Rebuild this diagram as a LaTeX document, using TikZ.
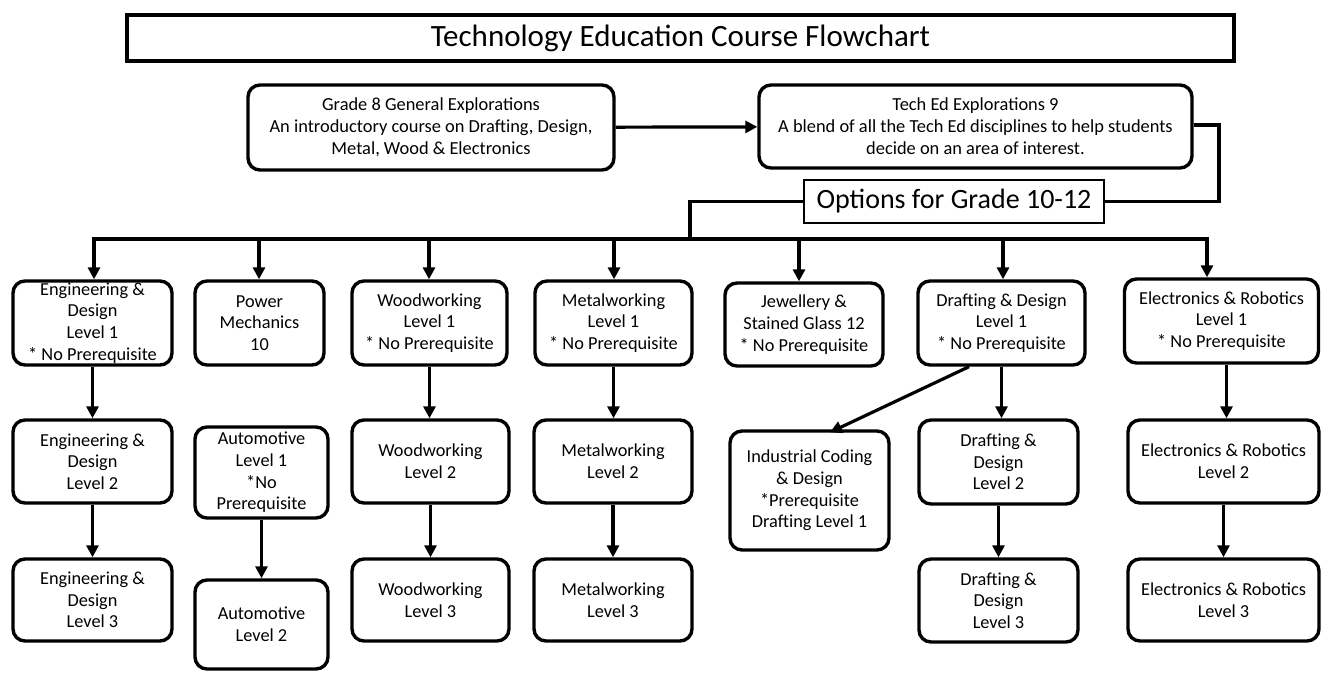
\documentclass[tikz,border=0pt]{standalone}
\usepackage{fontspec}
\setmainfont{Carlito}
\usetikzlibrary{arrows.meta}
\begin{document}
\begin{tikzpicture}[x=1pt,y=-1pt,
  box/.style={draw, line width=3.4pt, rounded corners=12pt, align=center, inner sep=0pt,
    font=\fontsize{18.3}{21.7}\selectfont},
  conn/.style={line width=3.2pt},
  arr/.style={line width=3.2pt, -{Triangle[length=12pt,width=12pt]}}]
\useasboundingbox (0,0) rectangle (1323,673);
% title
\node[draw, line width=4pt, minimum width=1107pt, minimum height=46pt, inner sep=0pt,
  font=\fontsize{31}{36}\selectfont] (title) at (680.5,38) {Technology Education Course Flowchart};
% top boxes
\node[box, minimum width=366pt, minimum height=85pt, font=\fontsize{18.4}{22}\selectfont] (g8) at (431,127.5)
  {Grade 8 General Explorations\\An introductory course on Drafting, Design,\\Metal, Wood \& Electronics};
\node[box, minimum width=433pt, minimum height=83pt, font=\fontsize{18.4}{22}\selectfont] (te) at (975.5,126.5)
  {Tech Ed Explorations 9\\A blend of all the Tech Ed disciplines to help students\\decide on an area of interest.};
\node[draw, line width=1.4pt, minimum width=300pt, minimum height=43pt, inner sep=0pt,
  font=\fontsize{28}{32}\selectfont] (opt) at (954,201.5) {Options for Grade 10-12};
% row 1
\node[box, minimum width=159pt, minimum height=84pt] (e1) at (92.5,323) {Engineering \&\\Design\\Level 1\\* No Prerequisite};
\node[box, minimum width=129pt, minimum height=84pt] (p1) at (259.5,323) {Power\\Mechanics\\10};
\node[box, minimum width=155pt, minimum height=84pt] (w1) at (429.5,323) {Woodworking\\Level 1\\* No Prerequisite};
\node[box, minimum width=157pt, minimum height=84pt] (m1) at (613.5,323) {Metalworking\\Level 1\\* No Prerequisite};
\node[box, minimum width=158pt, minimum height=83pt] (j1) at (804,324.5) {Jewellery \&\\Stained Glass 12\\* No Prerequisite};
\node[box, minimum width=167pt, minimum height=84pt] (d1) at (1001.5,323) {Drafting \& Design\\Level 1\\* No Prerequisite};
\node[box, minimum width=194pt, minimum height=84pt] (el1) at (1221.5,321) {Electronics \& Robotics\\Level 1\\* No Prerequisite};
% row 2
\node[box, minimum width=159pt, minimum height=83pt] (e2) at (92.5,461.5) {Engineering \&\\Design\\Level 2};
\node[box, minimum width=133pt, minimum height=91pt] (a1) at (261.5,472.5) {Automotive\\Level 1\\*No\\Prerequisite};
\node[box, minimum width=157pt, minimum height=83pt] (w2) at (430.5,461.5) {Woodworking\\Level 2};
\node[box, minimum width=158pt, minimum height=83pt] (m2) at (613,461.5) {Metalworking\\Level 2};
\node[box, minimum width=159pt, minimum height=119pt] (ic) at (809.5,490.5) {Industrial Coding\\\& Design\\*Prerequisite\\Drafting Level 1};
\node[box, minimum width=159pt, minimum height=84pt] (d2) at (998.5,462) {Drafting \&\\Design\\Level 2};
\node[box, minimum width=191pt, minimum height=83pt] (el2) at (1223.5,461.5) {Electronics \& Robotics\\Level 2};
% row 3
\node[box, minimum width=159pt, minimum height=82pt] (e3) at (92.5,600) {Engineering \&\\Design\\Level 3};
\node[box, minimum width=133pt, minimum height=89pt] (a2) at (261.5,624.5) {Automotive\\Level 2};
\node[box, minimum width=157pt, minimum height=82pt] (w3) at (430.5,600) {Woodworking\\Level 3};
\node[box, minimum width=158pt, minimum height=82pt] (m3) at (613,600) {Metalworking\\Level 3};
\node[box, minimum width=159pt, minimum height=83pt] (d3) at (998.5,600.5) {Drafting \&\\Design\\Level 3};
\node[box, minimum width=191pt, minimum height=82pt] (el3) at (1223.5,600) {Electronics \& Robotics\\Level 3};
% connectors top
\draw[arr] (g8) -- (te);
\coordinate (tr) at (1219,125);
\draw[conn] (te.east |- tr) -- (tr) -- (tr |- opt.east) -- (opt.east);
\coordinate (bj) at (690,239);
\draw[conn] (opt.west) -| (bj);
\coordinate (b1) at (94,239);
\coordinate (b2) at (259,239);
\coordinate (b3) at (429,239);
\coordinate (b4) at (614,239);
\coordinate (b5) at (799,239);
\coordinate (b6) at (1003,239);
\coordinate (b7) at (1207,239);
\draw[conn] ([xshift=-1.6pt]b1) -- ([xshift=1.6pt]b7);
\draw[arr] (b1) -- (b1 |- e1.north);
\draw[arr] (b2) -- (b2 |- p1.north);
\draw[arr] (b3) -- (b3 |- w1.north);
\draw[arr] (b4) -- (b4 |- m1.north);
\draw[arr] (b5) -- (b5 |- j1.north);
\draw[arr] (b6) -- (b6 |- d1.north);
\draw[arr] (b7) -- (b7 |- el1.north);
% vertical chains
\draw[arr] (e1.south) -- (e1.south |- e2.north);
\draw[arr] (e2.south) -- (e2.south |- e3.north);
\draw[arr] (a1.south) -- (a1.south |- a2.north);
\draw[arr] (w1.south) -- (w1.south |- w2.north);
\draw[arr] (w2.south) -- (w2.south |- w3.north);
\draw[arr] (m1.south) -- (m1.south |- m2.north);
\draw[arr] (m2.south) -- (m2.south |- m3.north);
\draw[arr] (d1.south) -- (d1.south |- d2.north);
\draw[arr] (d2.south) -- (d2.south |- d3.north);
\draw[arr] ([xshift=5pt]el1.south) -- ([xshift=5pt]el1.south |- el2.north);
\draw[arr] (el2.south) -- (el2.south |- el3.north);
\draw[arr] ([xshift=-32.5pt]d1.south) -- ([xshift=20.5pt,yshift=-3pt]ic.north);
\end{tikzpicture}
\end{document}
